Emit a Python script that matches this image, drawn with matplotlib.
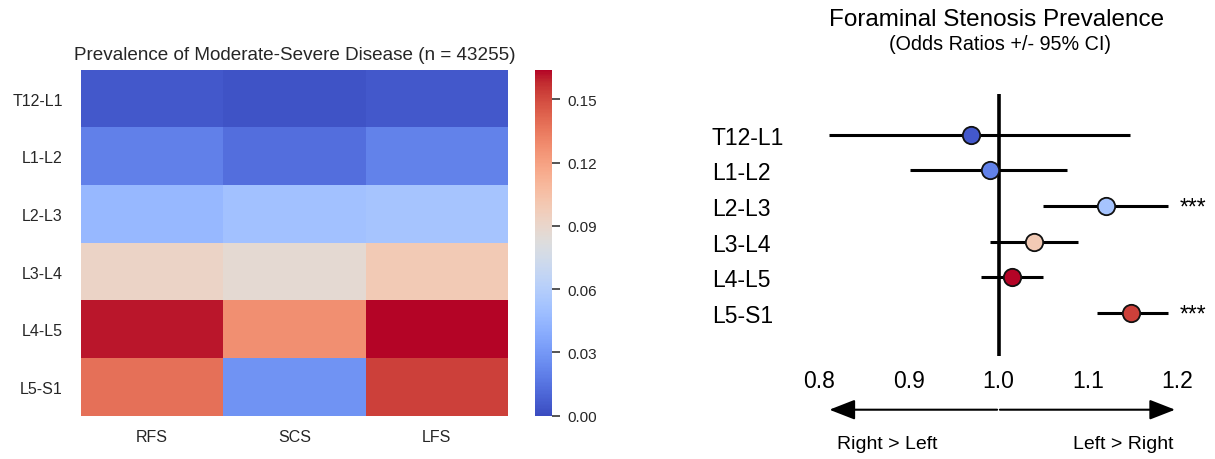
import numpy as np
import matplotlib
matplotlib.use("Agg")
import matplotlib.pyplot as plt
import matplotlib.transforms as mtransforms
from matplotlib.patches import FancyArrowPatch
from matplotlib.ticker import FormatStrFormatter

plt.rcParams['font.family'] = ['Liberation Sans', 'DejaVu Sans']

# ---------------- data ----------------
levels = ["T12-L1", "L1-L2", "L2-L3", "L3-L4", "L4-L5", "L5-S1"]
columns = ["RFS", "SCS", "LFS"]
rfs = [0.005, 0.020, 0.046, 0.092, 0.161, 0.138]
scs = [0.003, 0.013, 0.051, 0.087, 0.127, 0.028]
lfs = [0.005, 0.021, 0.053, 0.099, 0.164, 0.153]
cbar_ticks = [0.00, 0.03, 0.06, 0.09, 0.12, 0.15]

odds_ratio = [0.969, 0.9905, 1.120, 1.040, 1.015, 1.148]
ci_low = [0.811, 0.901, 1.050, 0.990, 0.980, 1.110]
ci_high = [1.147, 1.077, 1.189, 1.089, 1.050, 1.189]
significance = ["", "", "***", "", "", "***"]
or_ticks = [0.8, 0.9, 1.0, 1.1, 1.2]

W, H = 1215, 460
fig = plt.figure(figsize=(W / 100, H / 100), dpi=100)


def box(l, t, r, b):
    return [l / W, 1 - b / H, (r - l) / W, (b - t) / H]


# ---------------- heatmap ----------------
ax1 = fig.add_axes(box(81, 70.7, 508, 416.7))
cax = fig.add_axes(box(535, 70.7, 552, 416.7))
prev = np.column_stack([rfs, scs, lfs])
cmap = plt.get_cmap('coolwarm')
vmax = prev.max()
mesh = ax1.pcolormesh(prev, cmap=cmap, vmin=0, vmax=vmax, edgecolors='none')
ax1.set_xlim(0, len(columns))
ax1.set_ylim(len(levels), 0)
ax1.set_xticks(np.arange(len(columns)) + 0.5)
ax1.set_xticklabels(columns)
ax1.set_yticks(np.arange(len(levels)) + 0.5)
ax1.set_yticklabels(levels)
for s in ax1.spines.values():
    s.set_visible(False)
ax1.tick_params(axis='x', length=0, pad=9.7, labelsize=11.5, labelcolor='#262626')
ax1.tick_params(axis='y', length=0, pad=13, labelsize=11.5, labelcolor='#262626')
ax1.set_title("Prevalence of Moderate-Severe Disease (n = 43255)",
              fontsize=13.6, pad=7.5, color='#262626')

cb = fig.colorbar(mesh, cax=cax)
cb.outline.set_visible(False)
cb.set_ticks(cbar_ticks)
cb.ax.yaxis.set_major_formatter(FormatStrFormatter('%.2f'))
cb.ax.tick_params(length=6, width=1.1, color='#262626', pad=5,
                  labelsize=11, labelcolor='#262626')

# ---------------- forest plot ----------------
ax2 = fig.add_axes(box(800, 95, 1200, 357.3))
ypos = np.arange(len(levels))
norm = plt.Normalize(0, vmax)
marker_colors = [cmap(norm(v)) for v in lfs]

ax2.axvline(1.0, color='black', lw=2.6, zorder=4)
ax2.hlines(ypos, ci_low, ci_high, color='black', lw=2.2, zorder=2)
for y, x, c in zip(ypos, odds_ratio, marker_colors):
    ax2.plot(x, y, 'o', ms=12.5, mfc=c, mec='#111111', mew=1.3, zorder=5)

ax2.set_xlim(0.7782, 1.2251)
ax2.set_ylim(6.214, -1.141)
ax2.set_xticks(or_ticks)
ax2.set_xticklabels([f"{t:.1f}" for t in or_ticks])
ax2.set_yticks(ypos)
ax2.set_yticklabels(levels)
for lab in ax2.get_yticklabels():
    lab.set_horizontalalignment('left')
ax2.tick_params(axis='x', length=0, pad=9, labelsize=16.5)
ax2.tick_params(axis='y', length=0, pad=63.4, labelsize=16.5)
for s in ax2.spines.values():
    s.set_visible(False)
ax2.set_facecolor('none')

for y, sig in zip(ypos, significance):
    if sig:
        ax2.annotate(sig, xy=(1.2175, y), xytext=(0, -5.2),
                     textcoords='offset points', ha='center', va='baseline',
                     fontsize=16.5, annotation_clip=False)

trans = mtransforms.blended_transform_factory(ax2.transData, ax2.transAxes)
arrow_y = -0.2036
for tip in (0.811, 1.1973):
    arr = FancyArrowPatch((1.0, arrow_y), (tip, arrow_y), transform=trans,
                          arrowstyle='-|>,head_length=1.05,head_width=0.41',
                          mutation_scale=15, lw=1.5, color='black',
                          shrinkA=1, shrinkB=0, clip_on=False)
    fig.add_artist(arr)

ax2.text(0.8754, -0.3317, "Right > Left", transform=trans, ha='center',
         va='center', fontsize=14)
ax2.text(1.139, -0.3317, "Left > Right", transform=trans, ha='center',
         va='center', fontsize=14)

fig.text(997 / W, 1 - 20 / H, "Foraminal Stenosis Prevalence", ha='center',
         va='center', fontsize=17.5)
fig.text(1000 / W, 1 - 44 / H, "(Odds Ratios +/- 95% CI)", ha='center',
         va='center', fontsize=14.2)

fig.savefig("out.png", dpi=100)
